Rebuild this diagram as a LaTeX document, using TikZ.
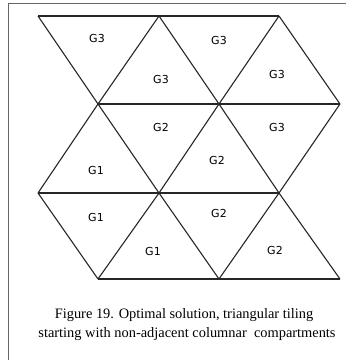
\documentclass[tikz,border=0pt]{standalone}
\usepackage{fontspec}
\setmainfont{Liberation Serif}
\newfontfamily\labelfont{DejaVu Sans}
\begin{document}
\begin{tikzpicture}[x=1pt, y=-1pt,
  tile/.style={line width=1.1pt, draw=black!85, line join=round},
  group/.style={font=\labelfont\fontsize{11}{13}\selectfont, inner sep=0pt},
  caption/.style={anchor=base, inner sep=0pt, font=\fontsize{14.4}{20}\selectfont}]
\useasboundingbox (0,0) rectangle (346,360);
\draw[line width=1pt, black!60] (9,362) -- (9,3) -- (348,3);
% tiling vertices
\coordinate (a1) at (38,16);  \coordinate (a2) at (159,16);  \coordinate (a3) at (279,16);
\coordinate (b1) at (98,104); \coordinate (b2) at (219,104); \coordinate (b3) at (340,104);
\coordinate (c1) at (38,193); \coordinate (c2) at (159,193); \coordinate (c3) at (279,193);
\coordinate (d1) at (98,279); \coordinate (d2) at (219,279); \coordinate (d3) at (340,279);
% horizontal edges
\draw[tile] (a1) -- (a3);
\draw[tile] (b1) -- (b3);
\draw[tile] (c1) -- (c3);
\draw[tile] (d1) -- (d3);
% falling edges
\draw[tile] (a1) -- (b1) -- (c2) -- (d2);
\draw[tile] (a2) -- (b2) -- (c3) -- (d3);
\draw[tile] (a3) -- (b3);
\draw[tile] (c1) -- (d1);
% rising edges
\draw[tile] (c1) -- (b1) -- (a2);
\draw[tile] (d1) -- (c2) -- (b2) -- (a3);
\draw[tile] (d2) -- (c3) -- (b3);
% groups
\node[group] (t1) at (97,38) {G3};
\node[group] (t2) at (219,40) {G3};
\node[group] (t3) at (161,79) {G3};
\node[group] (t4) at (277,74) {G3};
\node[group] (t5) at (96,170) {G1};
\node[group] (t6) at (161,127) {G2};
\node[group] (t7) at (217,160) {G2};
\node[group] (t8) at (277,127) {G3};
\node[group] (t9) at (96,217) {G1};
\node[group] (t10) at (153,251) {G1};
\node[group] (t11) at (219,213) {G2};
\node[group] (t12) at (275,250) {G2};
% caption
\node[caption] (cap1) at (184,318) {Figure 19. Optimal solution, triangular tiling};
\node[caption] (cap2) at (187,337.5) {starting with non-adjacent columnar\ \ compartments};
\end{tikzpicture}
\end{document}
